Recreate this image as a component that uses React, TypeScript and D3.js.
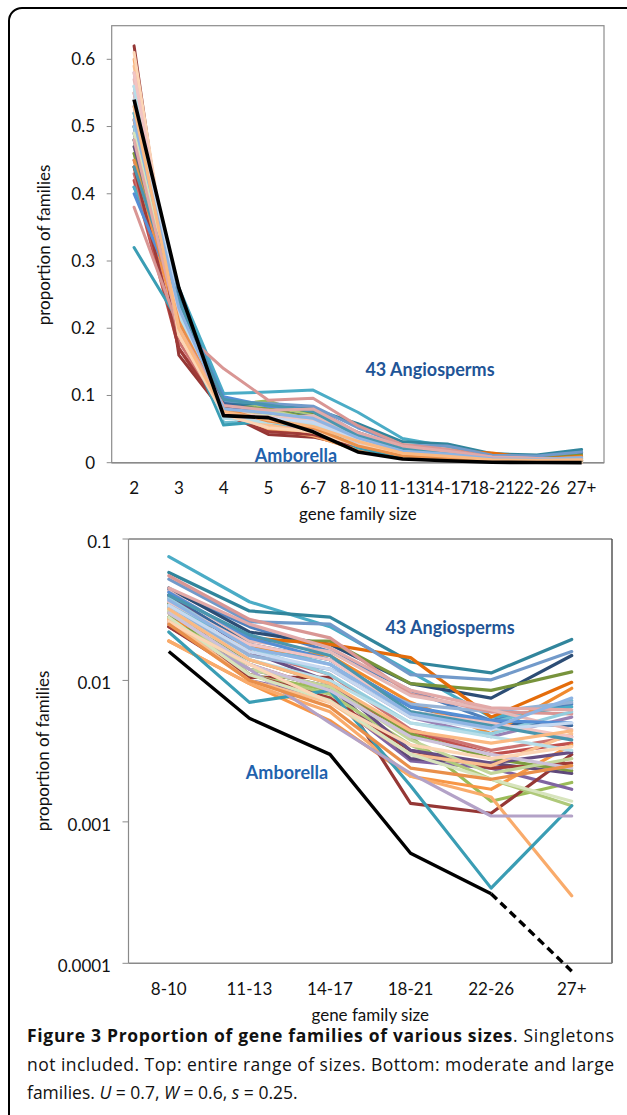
import React from "react";
import * as d3 from "d3";

// ---------- data ----------
const sizeCategories = ["2", "3", "4", "5", "6-7", "8-10", "11-13", "14-17", "18-21", "22-26", "27+"];
const largeCategories = ["8-10", "11-13", "14-17", "18-21", "22-26", "27+"];
const linearTicks = [0, 0.1, 0.2, 0.3, 0.4, 0.5, 0.6];
const linearTickLabels = ["0", "0.1", "0.2", "0.3", "0.4", "0.5", "0.6"];
const logTicks = [0.0001, 0.001, 0.01, 0.1];
const logTickLabels = ["0.0001", "0.001", "0.01", "0.1"];

// Amborella (black); last value is the extrapolated (dashed) 27+ point
const amborella = [0.54, 0.26, 0.07, 0.067, 0.046, 0.016, 0.0054, 0.003, 0.0006, 0.00031];
const amborellaLast = 0.000088;

// 43 angiosperms: [2, 3, 4, 5, 6-7, 8-10, 11-13, 14-17, 18-21, 22-26, 27+]
const angiosperms: number[][] = [
  [0.41, 0.25, 0.095, 0.08, 0.082, 0.044, 0.024, 0.016, 0.0085, 0.0052, 0.0068],
  [0.42, 0.17, 0.08, 0.048, 0.045, 0.026, 0.013, 0.0085, 0.0044, 0.003, 0.0036],
  [0.46, 0.21, 0.085, 0.092, 0.07, 0.032, 0.011, 0.0085, 0.004, 0.0014, 0.0019],
  [0.45, 0.23, 0.09, 0.075, 0.06, 0.038, 0.01, 0.0075, 0.0027, 0.0024, 0.0017],
  [0.41, 0.26, 0.103, 0.105, 0.108, 0.075, 0.036, 0.024, 0.0115, 0.0055, 0.0065],
  [0.44, 0.2, 0.078, 0.06, 0.04, 0.019, 0.0095, 0.0052, 0.0021, 0.0017, 0.0035],
  [0.5, 0.24, 0.085, 0.08, 0.072, 0.045, 0.022, 0.018, 0.0095, 0.0075, 0.015],
  [0.62, 0.16, 0.075, 0.042, 0.038, 0.024, 0.0105, 0.0105, 0.00135, 0.00115, 0.003],
  [0.48, 0.22, 0.088, 0.082, 0.074, 0.035, 0.019, 0.019, 0.0095, 0.0085, 0.0115],
  [0.49, 0.22, 0.08, 0.07, 0.055, 0.028, 0.012, 0.009, 0.0028, 0.0026, 0.0022],
  [0.52, 0.25, 0.09, 0.085, 0.08, 0.058, 0.031, 0.028, 0.0135, 0.0113, 0.0195],
  [0.51, 0.21, 0.082, 0.072, 0.062, 0.03, 0.02, 0.018, 0.0145, 0.0055, 0.0097],
  [0.53, 0.24, 0.092, 0.088, 0.084, 0.052, 0.026, 0.025, 0.011, 0.0101, 0.016],
  [0.43, 0.18, 0.078, 0.055, 0.05, 0.03, 0.016, 0.011, 0.0045, 0.0032, 0.004],
  [0.47, 0.21, 0.08, 0.085, 0.07, 0.03, 0.011, 0.008, 0.0035, 0.002, 0.0013],
  [0.5, 0.22, 0.082, 0.068, 0.058, 0.036, 0.015, 0.012, 0.0055, 0.004, 0.0055],
  [0.52, 0.23, 0.06, 0.058, 0.055, 0.034, 0.018, 0.013, 0.006, 0.005, 0.0072],
  [0.6, 0.19, 0.076, 0.05, 0.04, 0.019, 0.0095, 0.006, 0.0021, 0.0015, 0.0003],
  [0.48, 0.24, 0.088, 0.078, 0.068, 0.04, 0.018, 0.014, 0.0065, 0.005, 0.0048],
  [0.44, 0.17, 0.072, 0.046, 0.042, 0.024, 0.011, 0.0075, 0.0032, 0.0024, 0.0026],
  [0.46, 0.22, 0.084, 0.08, 0.066, 0.028, 0.014, 0.0095, 0.0042, 0.0028, 0.0023],
  [0.47, 0.23, 0.085, 0.072, 0.062, 0.04, 0.016, 0.0098, 0.0032, 0.0026, 0.0031],
  [0.32, 0.21, 0.056, 0.062, 0.06, 0.022, 0.007, 0.0085, 0.0018, 0.00034, 0.0013],
  [0.55, 0.22, 0.08, 0.07, 0.065, 0.027, 0.017, 0.015, 0.007, 0.0042, 0.0088],
  [0.56, 0.23, 0.072, 0.066, 0.06, 0.033, 0.015, 0.012, 0.0068, 0.006, 0.007],
  [0.38, 0.2, 0.14, 0.093, 0.096, 0.055, 0.027, 0.02, 0.008, 0.006, 0.0058],
  [0.54, 0.21, 0.075, 0.078, 0.064, 0.031, 0.012, 0.009, 0.0038, 0.0022, 0.0028],
  [0.58, 0.2, 0.07, 0.055, 0.048, 0.025, 0.012, 0.005, 0.0022, 0.0011, 0.0011],
  [0.5, 0.22, 0.068, 0.062, 0.07, 0.038, 0.017, 0.011, 0.005, 0.0042, 0.006],
  [0.59, 0.19, 0.078, 0.056, 0.045, 0.027, 0.01, 0.007, 0.003, 0.0025, 0.0042],
  [0.57, 0.21, 0.08, 0.066, 0.07, 0.043, 0.019, 0.016, 0.0078, 0.0062, 0.0045],
  [0.4, 0.24, 0.098, 0.084, 0.078, 0.042, 0.02, 0.014, 0.0065, 0.0052, 0.005],
  [0.49, 0.21, 0.074, 0.07, 0.06, 0.028, 0.011, 0.0072, 0.003, 0.002, 0.0014],
  [0.55, 0.22, 0.07, 0.064, 0.058, 0.03, 0.013, 0.0085, 0.004, 0.003, 0.0024],
  [0.56, 0.22, 0.066, 0.06, 0.056, 0.032, 0.014, 0.01, 0.005, 0.004, 0.0032],
  [0.61, 0.19, 0.072, 0.052, 0.046, 0.026, 0.013, 0.007, 0.0035, 0.0028, 0.0034],
  [0.58, 0.21, 0.074, 0.068, 0.062, 0.036, 0.018, 0.014, 0.006, 0.005, 0.004],
  [0.54, 0.23, 0.07, 0.066, 0.06, 0.034, 0.016, 0.012, 0.0055, 0.0045, 0.005],
  [0.45, 0.21, 0.08, 0.062, 0.052, 0.025, 0.01, 0.0065, 0.0024, 0.002, 0.0025],
  [0.44, 0.24, 0.094, 0.086, 0.076, 0.04, 0.021, 0.015, 0.006, 0.0048, 0.0038],
  [0.48, 0.2, 0.085, 0.078, 0.08, 0.045, 0.025, 0.017, 0.0085, 0.0064, 0.0062],
  [0.51, 0.23, 0.08, 0.074, 0.066, 0.037, 0.017, 0.013, 0.0058, 0.0046, 0.0075],
  [0.53, 0.2, 0.076, 0.064, 0.054, 0.032, 0.014, 0.0095, 0.0044, 0.0036, 0.0044],
];

const seriesColors = [
  "#4F81BD", "#C0504D", "#9BBB59", "#8064A2", "#4BACC6", "#F79646",
  "#2C4D75", "#953735", "#77933C", "#5F497A", "#31859C", "#E46C0A",
  "#729ACA", "#CD7371", "#AFC97A", "#9983B5", "#6FBDD1", "#F9AB6B",
  "#3A679C", "#9F3B38", "#7E9D40", "#674E83", "#3A9DB4", "#F08A2E",
  "#95B3D7", "#D99694", "#C3D69B", "#B3A2C7", "#93CDDD", "#FAC090",
  "#E6B9B8", "#558ED5", "#D7E4BD", "#CCC1DA", "#B7DEE8", "#FCD5B5",
  "#F2C4C3", "#C6D9F1", "#E98F4A", "#4A96AE", "#E2A9A8", "#8EB4E3",
  "#FBB982",
];

// ---------- layout ----------
const W = 627;
const H = 1115;
const chartFont = "Lato, 'Open Sans', sans-serif";
const captionFont = "'Open Sans', 'Noto Sans', sans-serif";
const tickSize = 17;
const labelSize = 18;

export default function App() {
  // top chart
  const xTop = d3.scalePoint<string>().domain(sizeCategories).range([111.7, 604]).padding(0.5);
  const yTop = d3.scaleLinear().domain([0, 0.65]).range([462.7, 25.7]);
  const lineTop = d3
    .line<number>()
    .x((_, i) => xTop(sizeCategories[i]) as number)
    .y((d) => yTop(d));

  // bottom chart
  const xBot = d3.scalePoint<string>().domain(largeCategories).range([128.5, 612]).padding(0.5);
  const yBot = d3.scaleLog().domain([0.0001, 0.1]).range([963.3, 539]);
  const lineBot = d3
    .line<number>()
    .x((_, i) => xBot(largeCategories[i]) as number)
    .y((d) => yBot(d));

  const ambTop = [...amborella, amborellaLast];
  const ambBot = amborella.slice(5);
  const ambDash = [amborella[amborella.length - 1], amborellaLast];
  const lineDash = d3
    .line<number>()
    .x((_, i) => xBot(largeCategories[4 + i]) as number)
    .y((d) => yBot(d));

  const [tx0, tx1] = xTop.range();
  const [ty0, ty1] = yTop.range();
  const [bx0, bx1] = xBot.range();
  const [by0, by1] = yBot.range();

  return (
    <svg
      width={W}
      height={H}
      viewBox={`0 0 ${W} ${H}`}
      style={{ position: "absolute", left: 0, top: 0, background: "#fff" }}
    >
      <rect x={0} y={0} width={W} height={H} fill="#fff" />
      {/* outer frame */}
      <rect x={9} y={8} width={W + 20} height={H + 20} rx={13} fill="none" stroke="#000" strokeWidth={2} />

      {/* ===== top chart ===== */}
      <rect x={tx0} y={ty1} width={tx1 - tx0} height={ty0 - ty1} fill="none" stroke="#8c8c8c" strokeWidth={1.2} />
      <line x1={tx0} x2={tx1} y1={ty0} y2={ty0} stroke="#8a8a8a" strokeWidth={1.6} />
      {linearTicks.map((t, i) => (
        <g key={"lt" + i}>
          <line x1={tx0 - 5} x2={tx0} y1={yTop(t)} y2={yTop(t)} stroke="#8a8a8a" strokeWidth={1} />
          <text x={95} y={yTop(t)} dy="0.35em" textAnchor="end" fontFamily={chartFont} fontSize={tickSize} fill="#111">
            {linearTickLabels[i]}
          </text>
        </g>
      ))}
      {sizeCategories.map((c) => (
        <text key={"xc" + c} x={xTop(c)} y={488} dy="0.35em" textAnchor="middle" fontFamily={chartFont} fontSize={tickSize} fill="#111">
          {c}
        </text>
      ))}
      <text x={(tx0 + tx1) / 2} y={514} dy="0.35em" textAnchor="middle" fontFamily={chartFont} fontSize={tickSize} fill="#111">
        gene family size
      </text>
      <text
        transform={`translate(44,245) rotate(-90)`}
        dy="0.35em"
        textAnchor="middle"
        fontFamily={chartFont}
        fontSize={tickSize}
        fill="#111"
      >
        proportion of families
      </text>
      {angiosperms.map((s, i) => (
        <path key={"ts" + i} d={lineTop(s) || ""} fill="none" stroke={seriesColors[i]} strokeWidth={3} strokeLinejoin="round" strokeLinecap="round" />
      ))}
      <path d={lineTop(ambTop) || ""} fill="none" stroke="#000" strokeWidth={3.6} strokeLinejoin="round" />
      <text x={430} y={370} dy="0.35em" textAnchor="middle" fontFamily={chartFont} fontWeight="bold" fontSize={labelSize} fill="#1f5597">
        43 Angiosperms
      </text>
      <text x={296} y={456} dy="0.35em" textAnchor="middle" fontFamily={chartFont} fontWeight="bold" fontSize={labelSize} fill="#1f62ad">
        Amborella
      </text>

      {/* ===== bottom chart ===== */}
      <line x1={bx0} x2={bx1} y1={by1} y2={by1} stroke="#7f7f7f" strokeWidth={1.4} />
      <line x1={bx1} x2={bx1} y1={by1} y2={by0} stroke="#4a4a4a" strokeWidth={1.4} />
      <line x1={bx0} x2={bx0} y1={by1} y2={by0} stroke="#8a8a8a" strokeWidth={1.2} />
      <line x1={bx0} x2={bx1} y1={by0} y2={by0} stroke="#8a8a8a" strokeWidth={1.6} />
      {logTicks.map((t, i) => (
        <g key={"gt" + i}>
          <line x1={bx0 - 6} x2={bx0} y1={yBot(t)} y2={yBot(t)} stroke="#8a8a8a" strokeWidth={1} />
          <text x={111} y={yBot(t) + 3} dy="0.35em" textAnchor="end" fontFamily={chartFont} fontSize={tickSize} fill="#111">
            {logTickLabels[i]}
          </text>
        </g>
      ))}
      {largeCategories.map((c) => (
        <text key={"bc" + c} x={xBot(c)} y={989} dy="0.35em" textAnchor="middle" fontFamily={chartFont} fontSize={tickSize} fill="#111">
          {c}
        </text>
      ))}
      <text x={(bx0 + bx1) / 2} y={1015} dy="0.35em" textAnchor="middle" fontFamily={chartFont} fontSize={tickSize} fill="#111">
        gene family size
      </text>
      <text
        transform={`translate(43,751) rotate(-90)`}
        dy="0.35em"
        textAnchor="middle"
        fontFamily={chartFont}
        fontSize={tickSize}
        fill="#111"
      >
        proportion of families
      </text>
      {angiosperms.map((s, i) => (
        <path key={"bs" + i} d={lineBot(s.slice(5)) || ""} fill="none" stroke={seriesColors[i]} strokeWidth={3.2} strokeLinejoin="round" strokeLinecap="round" />
      ))}
      <path d={lineBot(ambBot) || ""} fill="none" stroke="#000" strokeWidth={3.4} strokeLinejoin="round" />
      <path d={lineDash(ambDash) || ""} fill="none" stroke="#000" strokeWidth={3.4} strokeDasharray="8,5" />
      <text x={450} y={628} dy="0.35em" textAnchor="middle" fontFamily={chartFont} fontWeight="bold" fontSize={labelSize} fill="#1f5597">
        43 Angiosperms
      </text>
      <text x={287} y={773} dy="0.35em" textAnchor="middle" fontFamily={chartFont} fontWeight="bold" fontSize={labelSize} fill="#1f62ad">
        Amborella
      </text>

      {/* ===== caption ===== */}
      <text x={27} y={1042} fontFamily={captionFont} fontSize={17.5} fill="#111" textLength={587} lengthAdjust="spacing">
        <tspan fontWeight="bold">Figure 3 Proportion of gene families of various sizes</tspan>
        <tspan>. Singletons</tspan>
      </text>
      <text x={27} y={1071} fontFamily={captionFont} fontSize={17.5} fill="#111" textLength={587} lengthAdjust="spacing">
        not included. Top: entire range of sizes. Bottom: moderate and large
      </text>
      <text x={27} y={1099} fontFamily={captionFont} fontSize={17.5} fill="#111">
        families. <tspan fontStyle="italic">U</tspan> = 0.7, <tspan fontStyle="italic">W</tspan> = 0.6,{" "}
        <tspan fontStyle="italic">s</tspan> = 0.25.
      </text>
    </svg>
  );
}
